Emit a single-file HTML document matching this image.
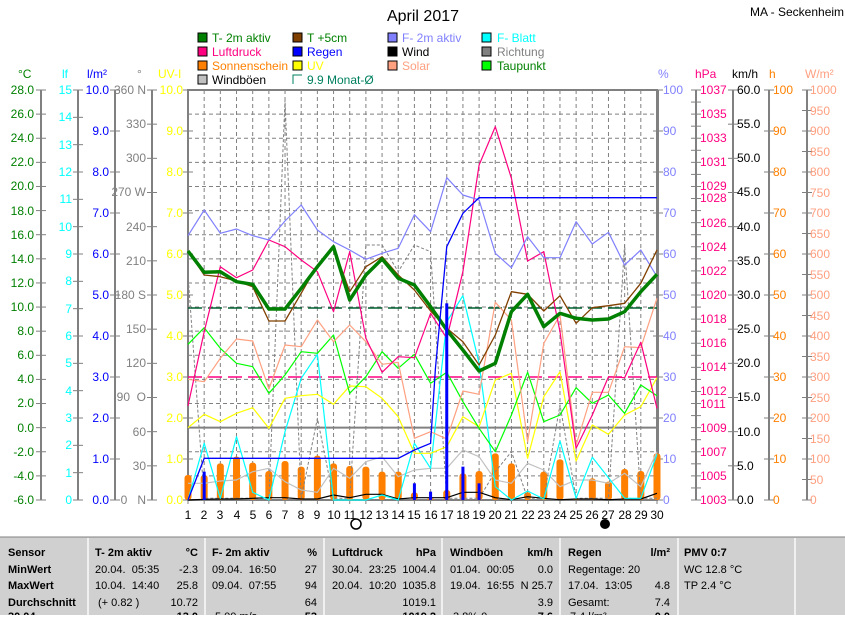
<!DOCTYPE html>
<html><head><meta charset="utf-8">
<style>
html,body{margin:0;padding:0;background:#fff;}
body{width:845px;height:615px;overflow:hidden;position:relative;font-family:"Liberation Sans",sans-serif;}
svg text{font-family:"Liberation Sans",sans-serif;}
</style></head>
<body>
<svg id="s" width="845" height="615" viewBox="0 0 845 615" xmlns="http://www.w3.org/2000/svg" font-size="12">
<g id="grid"></g>
<g id="series"></g>
<!-- title -->
<text x="423" y="21" font-size="16" text-anchor="middle">April 2017</text>
<text x="750" y="16" font-size="12">MA - Seckenheim</text>
<!-- legend -->
<g font-size="12">
<rect x="198" y="33" width="9" height="9" fill="#008000" stroke="#000"/><text x="212" y="42" fill="#008000">T- 2m aktiv</text>
<rect x="293" y="33" width="9" height="9" fill="#804000" stroke="#000"/><text x="307" y="42" fill="#008000">T +5cm</text>
<rect x="388" y="33" width="9" height="9" fill="#8080ff" stroke="#000"/><text x="402" y="42" fill="#8080ff">F- 2m aktiv</text>
<rect x="482" y="33" width="9" height="9" fill="#00ffff" stroke="#000"/><text x="497" y="42" fill="#00ffff">F- Blatt</text>
<rect x="198" y="47" width="9" height="9" fill="#ff0080" stroke="#000"/><text x="212" y="56" fill="#ff0080">Luftdruck</text>
<rect x="293" y="47" width="9" height="9" fill="#0000ff" stroke="#000"/><text x="307" y="56" fill="#0000ff">Regen</text>
<rect x="388" y="47" width="9" height="9" fill="#000" stroke="#000"/><text x="402" y="56" fill="#000">Wind</text>
<rect x="482" y="47" width="9" height="9" fill="#808080" stroke="#000"/><text x="497" y="56" fill="#808080">Richtung</text>
<rect x="198" y="61" width="9" height="9" fill="#ff8000" stroke="#000"/><text x="212" y="70" fill="#ff8000">Sonnenschein</text>
<rect x="293" y="61" width="9" height="9" fill="#ffff00" stroke="#000"/><text x="307" y="70" fill="#ffff00">UV</text>
<rect x="388" y="61" width="9" height="9" fill="#ffa080" stroke="#000"/><text x="402" y="70" fill="#ffa080">Solar</text>
<rect x="482" y="61" width="9" height="9" fill="#00ff00" stroke="#000"/><text x="497" y="70" fill="#008000">Taupunkt</text>
<rect x="198" y="75" width="9" height="9" fill="#c0c0c0" stroke="#000"/><text x="212" y="84" fill="#000">Windböen</text>
<path d="M293 84 V75 H302" fill="none" stroke="#008060"/><text x="307" y="84" fill="#008060">9.9 Monat-Ø</text>
</g>
<!-- unit labels -->
<g font-size="12">
<text x="18" y="78" fill="#008000">°C</text>
<text x="62" y="78" fill="#00ffff">lf</text>
<text x="87" y="78" fill="#0000ff">l/m²</text>
<text x="137" y="78" fill="#808080">°</text>
<text x="158" y="78" fill="#ffff00">UV-I</text>
<text x="658" y="78" fill="#8080ff">%</text>
<text x="695" y="78" fill="#ff0080">hPa</text>
<text x="732" y="78" fill="#000">km/h</text>
<text x="769" y="78" fill="#ff8000">h</text>
<text x="805" y="78" fill="#ffa080">W/m²</text>
</g>
<!-- left labels -->
<g font-size="12" text-anchor="end" fill="#008000">
<text x="34" y="94">28.0</text><text x="34" y="118">26.0</text><text x="34" y="142">24.0</text><text x="34" y="166">22.0</text><text x="34" y="190">20.0</text><text x="34" y="215">18.0</text><text x="34" y="239">16.0</text><text x="34" y="263">14.0</text><text x="34" y="287">12.0</text><text x="34" y="311">10.0</text><text x="34" y="335">8.0</text><text x="34" y="359">6.0</text><text x="34" y="383">4.0</text><text x="34" y="407">2.0</text><text x="34" y="432">0.0</text><text x="34" y="456">-2.0</text><text x="34" y="480">-4.0</text><text x="34" y="504">-6.0</text>
</g>
<g font-size="12" text-anchor="end" fill="#00ffff">
<text x="72" y="94">15</text><text x="72" y="121">14</text><text x="72" y="149">13</text><text x="72" y="176">12</text><text x="72" y="203">11</text><text x="72" y="231">10</text><text x="72" y="258">9</text><text x="72" y="285">8</text><text x="72" y="313">7</text><text x="72" y="340">6</text><text x="72" y="367">5</text><text x="72" y="395">4</text><text x="72" y="422">3</text><text x="72" y="449">2</text><text x="72" y="477">1</text><text x="72" y="504">0</text>
</g>
<g font-size="12" text-anchor="end" fill="#0000ff">
<text x="109" y="94">10.0</text><text x="109" y="135">9.0</text><text x="109" y="176">8.0</text><text x="109" y="217">7.0</text><text x="109" y="258">6.0</text><text x="109" y="299">5.0</text><text x="109" y="340">4.0</text><text x="109" y="381">3.0</text><text x="109" y="422">2.0</text><text x="109" y="463">1.0</text><text x="109" y="504">0.0</text>
</g>
<g font-size="12" text-anchor="end" fill="#808080">
<text x="146" y="94">360 N</text><text x="146" y="128">330</text><text x="146" y="162">300</text><text x="146" y="196">270 W</text><text x="146" y="231">240</text><text x="146" y="265">210</text><text x="146" y="299">180 S</text><text x="146" y="333">150</text><text x="146" y="367">120</text><text x="146" y="401">90&#160;&#160;O</text><text x="146" y="436">60</text><text x="146" y="470">30</text><text x="146" y="504">0&#160;&#160;&#160;N</text>
</g>
<g font-size="12" text-anchor="end" fill="#ffff00">
<text x="183" y="94">10.0</text><text x="183" y="135">9.0</text><text x="183" y="176">8.0</text><text x="183" y="217">7.0</text><text x="183" y="258">6.0</text><text x="183" y="299">5.0</text><text x="183" y="340">4.0</text><text x="183" y="381">3.0</text><text x="183" y="422">2.0</text><text x="183" y="463">1.0</text><text x="183" y="504">0.0</text>
</g>
<!-- right labels -->
<g font-size="12" fill="#8080ff">
<text x="663" y="94">100</text><text x="663" y="135">90</text><text x="663" y="176">80</text><text x="663" y="217">70</text><text x="663" y="258">60</text><text x="663" y="299">50</text><text x="663" y="340">40</text><text x="663" y="381">30</text><text x="663" y="422">20</text><text x="663" y="463">10</text><text x="663" y="504">0</text>
</g>
<g font-size="12" fill="#ff0080">
<text x="700" y="94">1037</text><text x="700" y="118">1035</text><text x="700" y="142">1033</text><text x="700" y="166">1031</text><text x="700" y="190">1029</text><text x="700" y="202">1028</text><text x="700" y="227">1026</text><text x="700" y="251">1024</text><text x="700" y="275">1022</text><text x="700" y="299">1020</text><text x="700" y="323">1018</text><text x="700" y="347">1016</text><text x="700" y="371">1014</text><text x="700" y="395">1012</text><text x="700" y="408">1011</text><text x="700" y="432">1009</text><text x="700" y="456">1007</text><text x="700" y="480">1005</text><text x="700" y="504">1003</text>
</g>
<g font-size="12" fill="#000">
<text x="737" y="94">60.0</text><text x="737" y="128">55.0</text><text x="737" y="162">50.0</text><text x="737" y="196">45.0</text><text x="737" y="231">40.0</text><text x="737" y="265">35.0</text><text x="737" y="299">30.0</text><text x="737" y="333">25.0</text><text x="737" y="367">20.0</text><text x="737" y="401">15.0</text><text x="737" y="436">10.0</text><text x="737" y="470">5.0</text><text x="737" y="504">0.0</text>
</g>
<g font-size="12" fill="#ff8000">
<text x="773" y="94">100</text><text x="773" y="135">90</text><text x="773" y="176">80</text><text x="773" y="217">70</text><text x="773" y="258">60</text><text x="773" y="299">50</text><text x="773" y="340">40</text><text x="773" y="381">30</text><text x="773" y="422">20</text><text x="773" y="463">10</text><text x="773" y="504">0</text>
</g>
<g font-size="12" fill="#ffa080">
<text x="810" y="94">1000</text><text x="810" y="115">950</text><text x="810" y="135">900</text><text x="810" y="156">850</text><text x="810" y="176">800</text><text x="810" y="197">750</text><text x="810" y="217">700</text><text x="810" y="238">650</text><text x="810" y="258">600</text><text x="810" y="279">550</text><text x="810" y="299">500</text><text x="810" y="320">450</text><text x="810" y="340">400</text><text x="810" y="361">350</text><text x="810" y="381">300</text><text x="810" y="402">250</text><text x="810" y="422">200</text><text x="810" y="443">150</text><text x="810" y="463">100</text><text x="810" y="484">50</text><text x="810" y="504">0</text>
</g>
<!-- day labels -->
<g font-size="12" text-anchor="middle" fill="#000">
<text x="188" y="519">1</text><text x="204" y="519">2</text><text x="220" y="519">3</text><text x="237" y="519">4</text><text x="253" y="519">5</text><text x="269" y="519">6</text><text x="285" y="519">7</text><text x="301" y="519">8</text><text x="317" y="519">9</text><text x="334" y="519">10</text><text x="350" y="519">11</text><text x="366" y="519">12</text><text x="382" y="519">13</text><text x="398" y="519">14</text><text x="414" y="519">15</text><text x="431" y="519">16</text><text x="447" y="519">17</text><text x="463" y="519">18</text><text x="479" y="519">19</text><text x="495" y="519">20</text><text x="511" y="519">21</text><text x="528" y="519">22</text><text x="544" y="519">23</text><text x="560" y="519">24</text><text x="576" y="519">25</text><text x="592" y="519">26</text><text x="608" y="519">27</text><text x="625" y="519">28</text><text x="641" y="519">29</text><text x="657" y="519">30</text>
</g>
<circle cx="356" cy="524" r="5" fill="#fff" stroke="#000" stroke-width="1.5"/>
<circle cx="605" cy="524" r="5" fill="#000"/>
<!-- table -->
<rect x="0" y="537" width="845" height="78" fill="#d0d0d0"/>
<line x1="0" y1="537" x2="845" y2="537" stroke="#808080"/>
<g stroke="#f0f0f0" stroke-width="2">
<line x1="88" y1="538" x2="88" y2="615"/><line x1="205" y1="538" x2="205" y2="615"/><line x1="324" y1="538" x2="324" y2="615"/><line x1="442" y1="538" x2="442" y2="615"/><line x1="560" y1="538" x2="560" y2="615"/><line x1="678" y1="538" x2="678" y2="615"/><line x1="795" y1="538" x2="795" y2="615"/>
</g>
<g font-size="11" fill="#000">
<g font-weight="bold">
<text x="8" y="556">Sensor</text><text x="8" y="573">MinWert</text><text x="8" y="589">MaxWert</text><text x="8" y="606">Durchschnitt</text><text x="8" y="620">30.04.</text>
<text x="95" y="556">T- 2m aktiv</text><text x="198" y="556" text-anchor="end">°C</text>
<text x="212" y="556">F- 2m aktiv</text><text x="317" y="556" text-anchor="end">%</text>
<text x="332" y="556">Luftdruck</text><text x="436" y="556" text-anchor="end">hPa</text>
<text x="450" y="556">Windböen</text><text x="553" y="556" text-anchor="end">km/h</text>
<text x="568" y="556">Regen</text><text x="670" y="556" text-anchor="end">l/m²</text>
<text x="684" y="556">PMV 0:7</text>
<text x="198" y="620" text-anchor="end">13.0</text><text x="317" y="620" text-anchor="end">53</text><text x="436" y="620" text-anchor="end">1019.2</text><text x="553" y="620" text-anchor="end">7.6</text><text x="670" y="620" text-anchor="end">0.0</text>
</g>
<text x="95" y="573">20.04.&#160; 05:35</text><text x="198" y="573" text-anchor="end">-2.3</text>
<text x="212" y="573">09.04.&#160; 16:50</text><text x="317" y="573" text-anchor="end">27</text>
<text x="332" y="573">30.04.&#160; 23:25</text><text x="436" y="573" text-anchor="end">1004.4</text>
<text x="450" y="573">01.04.&#160; 00:05</text><text x="553" y="573" text-anchor="end">0.0</text>
<text x="568" y="573">Regentage: 20</text>
<text x="684" y="573">WC 12.8 °C</text>
<text x="95" y="589">10.04.&#160; 14:40</text><text x="198" y="589" text-anchor="end">25.8</text>
<text x="212" y="589">09.04.&#160; 07:55</text><text x="317" y="589" text-anchor="end">94</text>
<text x="332" y="589">20.04.&#160; 10:20</text><text x="436" y="589" text-anchor="end">1035.8</text>
<text x="450" y="589">19.04.&#160; 16:55</text><text x="553" y="589" text-anchor="end">N 25.7</text>
<text x="568" y="589">17.04.&#160; 13:05</text><text x="670" y="589" text-anchor="end">4.8</text>
<text x="684" y="589">TP 2.4 °C</text>
<text x="98" y="606">(+ 0.82 )</text><text x="198" y="606" text-anchor="end">10.72</text>
<text x="317" y="606" text-anchor="end">64</text>
<text x="436" y="606" text-anchor="end">1019.1</text>
<text x="553" y="606" text-anchor="end">3.9</text>
<text x="568" y="606">Gesamt:</text><text x="670" y="606" text-anchor="end">7.4</text>
<text x="215" y="620">5.00 m/s</text><text x="453" y="620">3.8% 0</text><text x="570" y="620">7.4 l/m²</text>
</g>
</svg>
<script>
(function(){
var NS="http://www.w3.org/2000/svg";
var grid=document.getElementById('grid'),ser=document.getElementById('series');
function el(p,tag,a){var e=document.createElementNS(NS,tag);for(var k in a)e.setAttribute(k,a[k]);p.appendChild(e);return e;}
function X(d){return 188+(d-1)*16.172;}
function Y(z){return 85+z/3;}
// grid
for(var d=2;d<=29;d++)el(grid,'line',{x1:X(d),y1:90,x2:X(d),y2:500,stroke:'#808080','stroke-dasharray':'4,3'});
for(var i=1;i<17;i++){var y=500-i*410/17;el(grid,'line',{x1:188,y1:y,x2:657,y2:y,stroke:'#808080','stroke-dasharray':'4,3'});}
el(grid,'line',{x1:188,y1:427.6,x2:657,y2:427.6,stroke:'#808080','stroke-width':2});
el(grid,'rect',{x:188,y:90,width:469,height:410,fill:'none',stroke:'#808080','stroke-width':2});
// axes
var ax=[[41,17],[78,15],[115,10],[152,12],[188,10],[658,10],[696,34],[733,12],[769,10],[807,20]];
ax.forEach(function(a){el(grid,'line',{x1:a[0],y1:90,x2:a[0],y2:500,stroke:'#808080','stroke-width':2});
 for(var i=0;i<=a[1];i++){var y=90+i*410/a[1];el(grid,'line',{x1:a[0]-5,y1:y,x2:a[0]+5,y2:y,stroke:'#808080'});}});
for(var d=1;d<=30;d++)el(grid,'line',{x1:X(d),y1:500,x2:X(d),y2:504,stroke:'#808080'});
// month avg
el(grid,'line',{x1:188,y1:308,x2:657,y2:308,stroke:'#006030','stroke-width':1.5,'stroke-dasharray':'14,6'});
el(grid,'line',{x1:188,y1:377,x2:657,y2:377,stroke:'#ff0080','stroke-width':1.5,'stroke-dasharray':'14,6'});
function line(v,c,w,dash){var p=v.map(function(z,i){return X(i+1).toFixed(1)+','+Y(z).toFixed(1)}).join(' ');
 var a={points:p,fill:'none',stroke:c,'stroke-width':w||1,'stroke-linejoin':'round'};if(dash)a['stroke-dasharray']=dash;el(ser,'polyline',a);}
// sunshine bars
var sun=[1170,1170,1135,1115,1133,1158,1128,1145,1112,1135,1143,1145,1160,1160,1222,1240,1215,1165,1158,1105,1135,1222,1160,1123,1240,1180,1190,1152,1158,1105];
sun.forEach(function(z,i){var t=Y(z);if(500-t<1)return;el(ser,'rect',{x:X(i+1)-3.5,y:t,width:7,height:500-t,rx:3,fill:'#ff8000'});});
// Richtung
line([570,1240,1240,1240,1240,1240,45,1240,1000,1240,1240,480,480,560,480,500,1240,1240,1240,1160,1100,1240,1240,960,1240,1240,1240,480,1240,1240],'#808080',1,'3,2');
line([1195,1195,1188,1185,1160,1150,1190,1215,1222,1150,1180,1130,1115,1175,1155,1150,1150,1095,1115,1185,1195,1135,1155,1205,1185,1185,1195,1165,1205,1100],'#c0c0c0',1.2);
line([1245,1243,1242,1242,1240,1238,1238,1242,1242,1230,1238,1228,1228,1242,1238,1238,1238,1222,1222,1238,1244,1235,1240,1244,1242,1242,1244,1242,1242,1225],'#000',1.2);
line([1245,1075,1240,1055,1222,1245,1040,880,808,1245,1245,1245,1230,1245,1075,1150,710,632,835,1205,1245,1218,1242,1068,1240,1117,1178,1240,1240,1108],'#00ffff',1.2);
line([1028,988,1010,985,968,1030,940,932,928,958,903,905,940,995,1105,1105,1085,995,1025,885,865,1120,935,860,1128,1020,1048,990,965,878],'#ffff00',1.2);
line([778,728,790,835,845,925,870,800,805,750,925,875,800,850,808,895,862,950,1030,1100,990,862,1010,990,908,955,930,985,900,932],'#00ff00',1.2);
line([883,890,820,762,768,912,780,785,705,770,720,770,838,832,1060,1040,1062,918,928,652,705,1070,775,690,1080,922,922,785,788,640],'#ffa080',1.2);
line([962,740,545,578,555,465,485,525,560,680,500,760,862,815,818,685,760,560,240,125,280,528,500,740,1090,990,875,878,772,970],'#ff0080',1.2);
line([452,375,445,432,452,465,408,360,435,470,495,523,505,490,389,440,278,330,345,505,548,455,518,518,410,477,442,540,495,575],'#8080ff',1.2);
line([498,570,575,588,605,708,708,625,540,485,620,545,515,570,615,678,730,770,840,750,620,628,678,632,715,668,662,655,595,495],'#804000',1.3);
line([498,562,560,590,598,672,672,610,545,485,645,570,522,580,600,665,735,795,858,835,680,628,725,685,700,705,702,680,620,568],'#008000',3.5);
// rain cumulative
var rp=[[1,1245],[2,1120],[14,1120],[15,1095],[16,1075],[16.3,850],[17,485],[18,385],[19,338],[30,338]];
el(ser,'polyline',{points:rp.map(function(p){return X(p[0])+','+Y(p[1])}).join(' '),fill:'none',stroke:'#0000ff','stroke-width':1.3});
// rain bars
[[2,1160],[15,1195],[16,1220],[17,655],[18,1145],[19,1195]].forEach(function(b){el(ser,'rect',{x:X(b[0])-1.5,y:Y(b[1]),width:3,height:500-Y(b[1]),fill:'#0000ff'});});
})();
</script>
</body></html>
